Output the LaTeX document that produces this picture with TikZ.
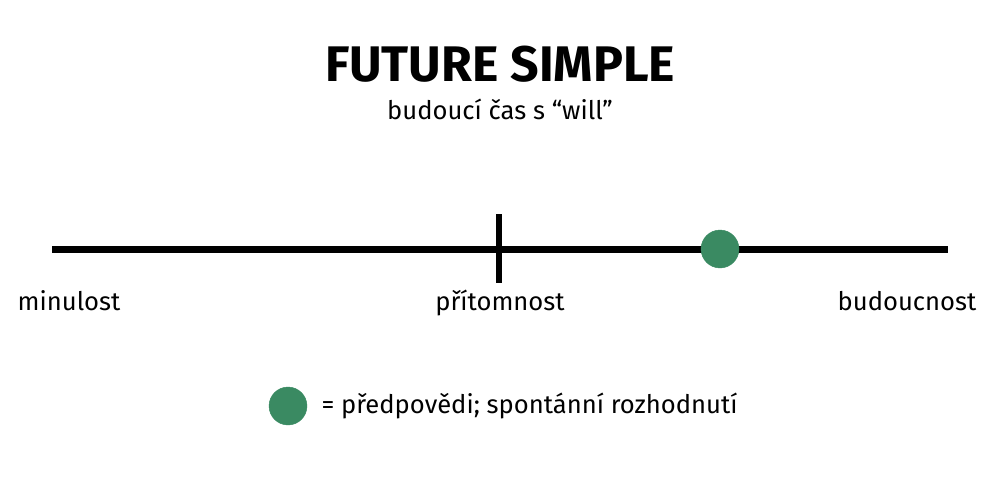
\documentclass[tikz,border=0pt]{standalone}
\usepackage{fontspec}
\setmainfont{Fira Sans}
\definecolor{dotgreen}{HTML}{3A8A62}
\begin{document}
\begin{tikzpicture}[x=1pt, y=-1pt]
			\useasboundingbox (0,0) rectangle (1000,500);
			% časová osa
			\coordinate (a0) at (52, 249); % start
			\coordinate (a1) at (948, 249); % end
			\coordinate (t0) at (499, 214); % now top
			\coordinate (t1) at (499, 283); % now bottom
			\coordinate (d0) at (720, 249); % event
			\coordinate (d1) at (288, 406); % legend
			
			% DRAW TEXT
			\node[anchor=base, font=\fontsize{50}{50}\selectfont\bfseries] (title) at (500, 82) {FUTURE SIMPLE};
			\node[anchor=base, font=\fontsize{25.6}{26}\selectfont] (sub) at (500, 120) {budoucí čas s “will”};
			\node[anchor=base, font=\fontsize{25.6}{26}\selectfont] (past) at (69, 310) {minulost};
			\node[anchor=base, font=\fontsize{25.6}{26}\selectfont] (now) at (500, 310) {přítomnost};
			\node[anchor=base, font=\fontsize{25.6}{26}\selectfont] (future) at (907, 310) {budoucnost};
			\node[anchor=west, font=\fontsize{25.6}{26}\selectfont] (legend) at (318, 406) {= předpovědi; spontánní rozhodnutí};
			
			% DRAW LINE
			\path[draw, line width=7] (a0)--(a1);
			\path[draw, line width=6] (t0)--(t1);
			
			% DRAW NODES
			\draw[color=dotgreen, fill=dotgreen] (d0) circle (19);
			\draw[color=dotgreen, fill=dotgreen] (d1) circle (19);
		\end{tikzpicture}
\end{document}
